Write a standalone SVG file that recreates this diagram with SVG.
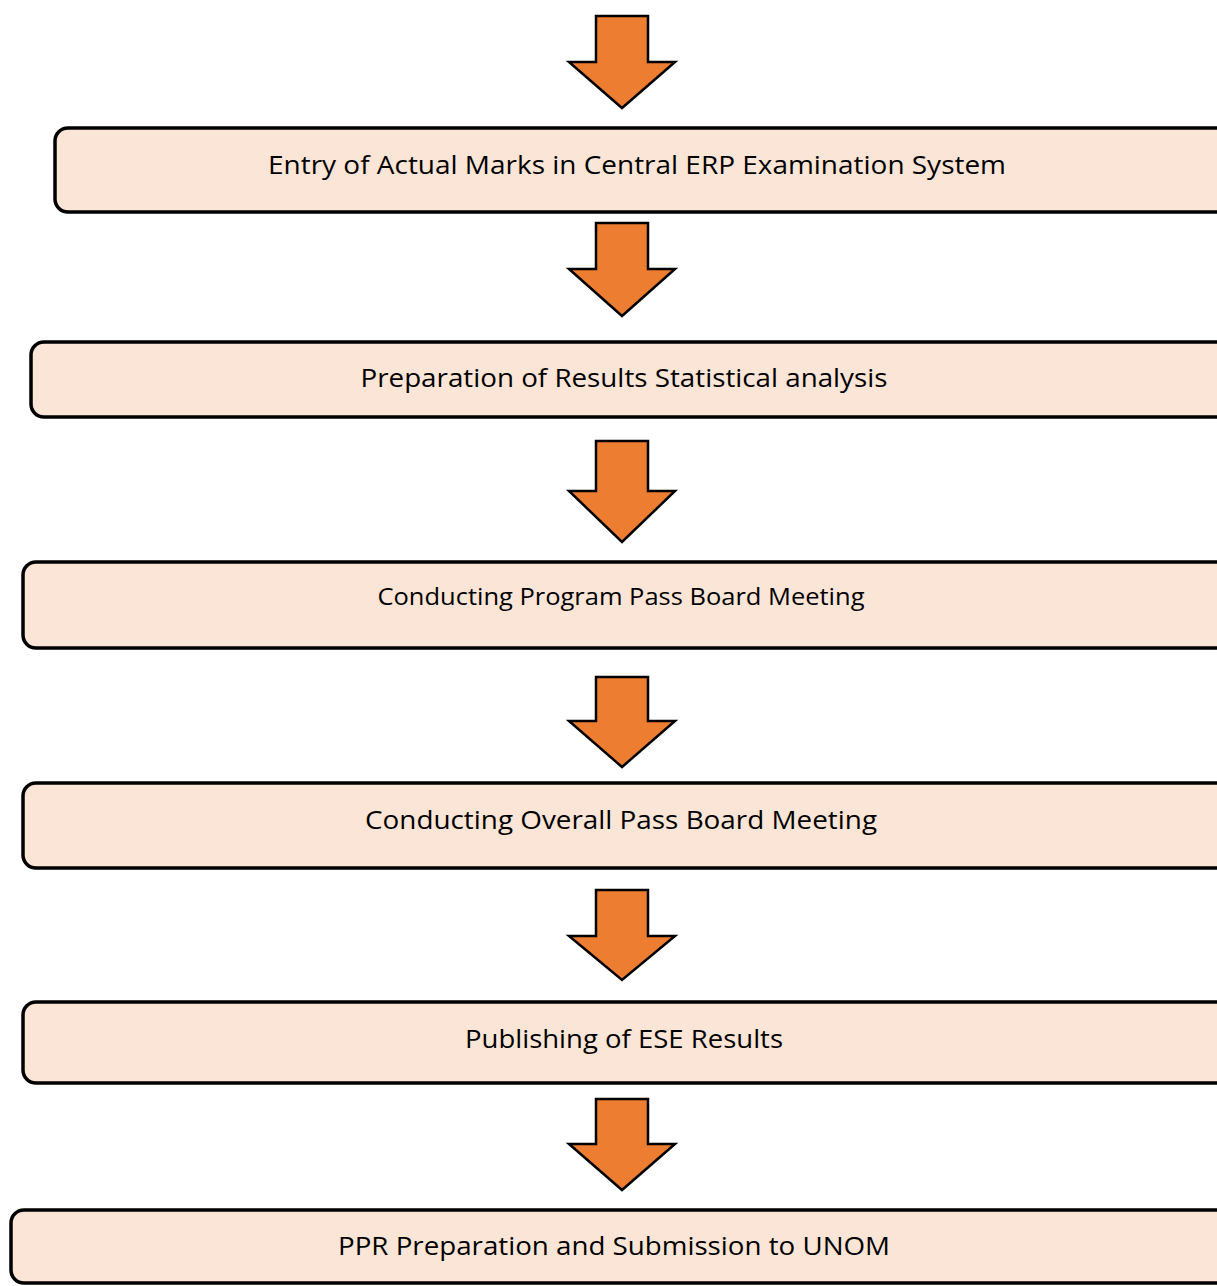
<svg xmlns="http://www.w3.org/2000/svg" width="1217" height="1286" viewBox="0 0 1217 1286">
<style>
.box{fill:#FBE5D6;stroke:#000;stroke-width:3.5}
.arr{fill:#ED7D31;stroke:#000;stroke-width:2.5;stroke-linejoin:miter}
.t{font-family:"Open Sans","Noto Sans",sans-serif;font-size:26px;fill:#000;text-anchor:middle}
</style>
<rect width="1217" height="1286" fill="#fff"/>
<g id="connectors">
<path class="arr" d="M596,16 H648 V62 H675 L622,108 L569,62 H596 Z"/>
<path class="arr" d="M596,223 H648 V269 H675 L622,316 L569,269 H596 Z"/>
<path class="arr" d="M596,441 H648 V491 H675 L622,542 L569,491 H596 Z"/>
<path class="arr" d="M596,677 H648 V721 H675 L622,767 L569,721 H596 Z"/>
<path class="arr" d="M596,890 H648 V936 H675 L622,980 L569,936 H596 Z"/>
<path class="arr" d="M596,1099 H648 V1144 H675 L622,1190 L569,1144 H596 Z"/>
</g>
<g id="node1"><rect class="box" x="55" y="128" width="1180" height="84" rx="13"/><text class="t" x="637" y="174" textLength="738" lengthAdjust="spacingAndGlyphs">Entry of Actual Marks in Central ERP Examination System</text></g>
<g id="node2"><rect class="box" x="31" y="342" width="1200" height="75" rx="13"/><text class="t" x="624" y="387" textLength="527" lengthAdjust="spacingAndGlyphs">Preparation of Results Statistical analysis</text></g>
<g id="node3"><rect class="box" x="23" y="562" width="1210" height="86" rx="13"/><text class="t" x="621" y="605" style="font-size:24px" textLength="487" lengthAdjust="spacingAndGlyphs">Conducting Program Pass Board Meeting</text></g>
<g id="node4"><rect class="box" x="23" y="783" width="1210" height="85" rx="13"/><text class="t" x="621" y="829" textLength="512" lengthAdjust="spacingAndGlyphs">Conducting Overall Pass Board Meeting</text></g>
<g id="node5"><rect class="box" x="23" y="1002" width="1210" height="81" rx="13"/><text class="t" x="624" y="1048" textLength="318" lengthAdjust="spacingAndGlyphs">Publishing of ESE Results</text></g>
<g id="node6"><rect class="box" x="11" y="1210" width="1220" height="73" rx="13"/><text class="t" x="614" y="1255" textLength="552" lengthAdjust="spacingAndGlyphs">PPR Preparation and Submission to UNOM</text></g>
</svg>
